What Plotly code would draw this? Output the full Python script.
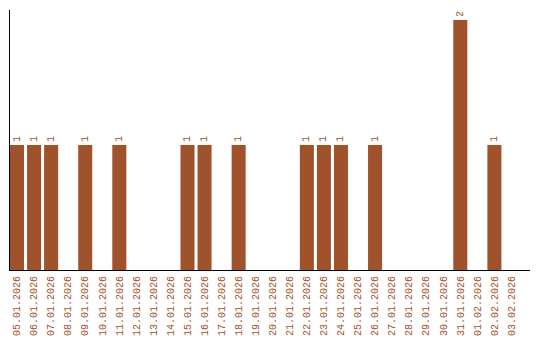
import plotly.graph_objects as go

dates = ["05.01.2026", "06.01.2026", "07.01.2026", "08.01.2026", "09.01.2026",
         "10.01.2026", "11.01.2026", "12.01.2026", "13.01.2026", "14.01.2026",
         "15.01.2026", "16.01.2026", "17.01.2026", "18.01.2026", "19.01.2026",
         "20.01.2026", "21.01.2026", "22.01.2026", "23.01.2026", "24.01.2026",
         "25.01.2026", "26.01.2026", "27.01.2026", "28.01.2026", "29.01.2026",
         "30.01.2026", "31.01.2026", "01.02.2026", "02.02.2026", "03.02.2026"]
counts = [1, 1, 1, 0, 1, 0, 1, 0, 0, 0,
          1, 1, 0, 1, 0, 0, 0, 1, 1, 1,
          0, 1, 0, 0, 0, 0, 2, 0, 1, 0]

COLOR = "#A0522D"
FONT = "Liberation Mono"

idx = list(range(len(dates)))
labels = [str(v) if v else "" for v in counts]

fig = go.Figure(go.Bar(
    x=idx, y=counts, text=labels,
    textposition="outside", textangle=-90,
    textfont=dict(family=FONT, size=10, color=COLOR),
    marker=dict(color=COLOR, line=dict(width=0)),
    cliponaxis=False,
))

fig.update_layout(
    width=540, height=340,
    margin=dict(l=10, r=10, t=10, b=70, autoexpand=False),
    paper_bgcolor="white", plot_bgcolor="white",
    bargap=3 / 17,
    showlegend=False,
    font=dict(family=FONT, size=10, color=COLOR),
    xaxis=dict(
        tickvals=idx, ticktext=dates, tickangle=-90,
        range=[-0.5 + 1.5 / 17, 30.0 + 1.5 / 17],
        showgrid=False, zeroline=False, automargin=False,
        showline=True, linecolor="black", linewidth=1,
        ticks="", ticklabelstandoff=1,
        tickfont=dict(family=FONT, size=10, color=COLOR),
    ),
    yaxis=dict(
        range=[0, 2.08], showgrid=False, zeroline=False, automargin=False,
        showline=True, linecolor="black", linewidth=1,
        showticklabels=False, ticks="",
    ),
)

fig.write_html("out.html")
